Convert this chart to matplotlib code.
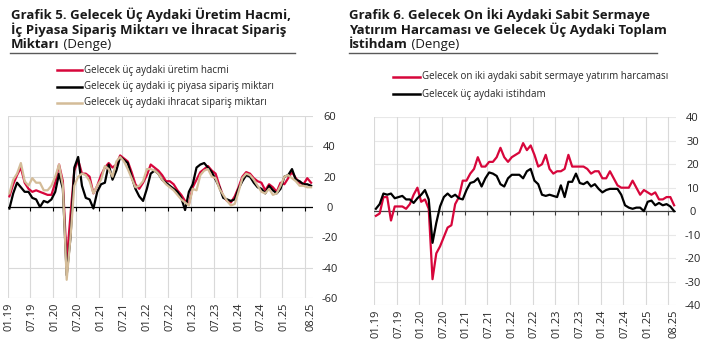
import numpy as np
import matplotlib
matplotlib.use('Agg')
import matplotlib.pyplot as plt
from matplotlib.lines import Line2D

# --- data (monthly, 01.19 .. 08.25) ---
months = ['%02d.%02d' % (m, y) for y in range(19, 26) for m in range(1, 13)][:80]

uretim = [7, 15, 21, 26, 16, 12, 10, 11, 10, 9, 8, 8,
          16, 28, 17, -36, -5, 24, 31, 22, 22, 20, 9, 14,
          21, 26, 29, 26, 28, 34, 32, 30, 23, 15, 12, 16,
          21, 28, 26, 24, 21, 17, 17, 15, 11, 8, 4, 2,
          13, 18, 23, 25, 27, 24, 22, 14, 7, 4, 3, 7,
          13, 20, 23, 22, 19, 17, 16, 11, 15, 13, 10, 16,
          15, 19, 23, 19, 16, 15, 19, 16]
ic_piyasa = [-1, 9, 16, 13, 10, 10, 6, 5, 0, 4, 3, 5,
             10, 22, 12, -45, -20, 26, 33, 14, 6, 5, -1, 10,
             15, 16, 28, 18, 24, 33, 31, 29, 20, 12, 7, 4,
             12, 22, 24, 22, 18, 16, 14, 12, 10, 6, -2, 10,
             15, 26, 28, 29, 26, 23, 18, 13, 6, 5, 4, 5,
             12, 17, 21, 20, 16, 13, 12, 9, 14, 11, 9, 12,
             20, 21, 25, 18, 17, 15, 15, 14]
ihracat = [9, 18, 22, 29, 17, 14, 19, 16, 16, 11, 11, 14,
           20, 28, 14, -48, -20, 14, 20, 22, 21, 17, 9, 14,
           18, 27, 25, 20, 30, 33, 30, 25, 19, 13, 14, 17,
           25, 25, 24, 22, 18, 15, 13, 11, 8, 5, 3, 1,
           12, 11, 21, 24, 25, 20, 19, 12, 8, 4, 1, 2,
           10, 19, 22, 21, 18, 14, 10, 9, 12, 8, 9, 14,
           20, 21, 19, 17, 14, 14, 13, 13]

yatirim = [-2, -1, 6, 6, -4, 2, 2, 2, 1, 3, 7, 10,
           4, 5, 1, -29, -18, -15, -11, -7, -6, 3, 6, 13,
           13, 16, 18, 23, 19, 19, 21, 21, 23, 27, 23, 21,
           23, 24, 25, 29, 26, 28, 24, 19, 20, 24, 18, 16,
           17, 17, 18, 24, 19, 19, 19, 19, 18, 16, 17, 17,
           14, 14, 17, 14, 11, 10, 10, 10, 13, 10, 7, 9,
           8, 7, 8, 5, 5, 6, 6, 2.5]
istihdam = [1, 3, 7.5, 7, 7.5, 5.5, 6, 6.5, 5, 5, 3.5, 5.5,
            7, 9, 5, -13.5, -5, 2, 6, 7.5, 6, 7, 5.5, 5,
            9, 12, 12.5, 14, 10.5, 14, 16.5, 16, 15, 11.5, 10.5, 14,
            15.5, 15.5, 15.5, 14, 17, 18, 13, 11.5, 7, 6.5, 7, 6.5,
            6, 11, 6, 12.5, 12.5, 16, 12, 11.5, 12.5, 10.5, 11.5, 9.5,
            8, 9, 9.5, 9.5, 9.5, 7, 2.5, 1.5, 1, 1.5, 1.5, 0,
            4, 4.5, 2.5, 3.5, 2.5, 3, 2, 0]

RED = '#D7063B'
BEIGE = '#D4BC98'
GRID = '#D9D9D9'
TXT = '#262626'

W, H = 718, 351
fig = plt.figure(figsize=(W / 100, H / 100), dpi=100)


def fx(px):
    return px / W


def fy(py):
    return 1 - py / H


def panel(rect_px, ylim, ystep, series, hgrid, zcol):
    x0, y0, x1, y1 = rect_px
    ax = fig.add_axes([fx(x0), fy(y1), fx(x1 - x0), (y1 - y0) / H])
    x = np.arange(len(months))
    for vals, col in series:
        ax.plot(x, vals, color=col, lw=1.6, solid_joinstyle='round')
    ax.set_xlim(-0.5, len(months) - 0.5)
    ax.set_ylim(*ylim)
    for s in ax.spines.values():
        s.set_visible(False)
    yt = np.arange(ylim[0], ylim[1] + 1, ystep)
    ax.set_yticks(yt)
    ax.set_yticklabels([str(v) for v in yt])
    ax.yaxis.tick_right()
    ax.tick_params(axis='y', length=0, pad=12, labelsize=8, labelcolor=TXT)
    for t in ax.get_yticklabels():
        t.set_horizontalalignment('center')
        t.set_fontfamily('Open Sans')
    for v in yt:
        if v != 0:
            ax.axhline(v, color=hgrid, lw=0.8, zorder=0)
    gx = np.arange(0, len(months), 6) - 0.5
    for g in gx:
        ax.axvline(g, color=GRID, lw=0.8, zorder=0)
    ax.axhline(0, color=zcol, lw=0.9, zorder=1)
    ax.plot(gx[1:], np.zeros(len(gx) - 1), ls='none', marker=3, ms=3, color=zcol, mew=0.8)
    pos = list(range(0, 73, 6)) + [79]
    ax.set_xticks(pos)
    ax.set_xticklabels([months[p] for p in pos], rotation=90)
    ax.tick_params(axis='x', length=0, pad=3, labelsize=8, labelcolor=TXT)
    for t in ax.get_xticklabels():
        t.set_fontfamily('Open Sans')
    return ax


panel((7.5, 116, 313, 298), (-60, 60), 20,
      [(uretim, RED), (ic_piyasa, 'black'), (ihracat, BEIGE)], GRID, 'black')
panel((374, 117.3, 676, 305), (-40, 40), 10,
      [(yatirim, RED), (istihdam, 'black')], '#E8E8E8', '#404040')


def title(x, y, lines, last_normal):
    fs = 9.5
    for i, ln in enumerate(lines):
        t = fig.text(fx(x), fy(y + i * 15), ln, fontsize=fs, fontweight='bold',
                     family='Open Sans', color='#1A1A1A', va='center')
    fig.canvas.draw()
    bb = t.get_window_extent()
    fig.text(bb.x1 / W, fy(y + (len(lines) - 1) * 15), last_normal, fontsize=fs,
             family='Open Sans', color='#1A1A1A', va='center')


title(11, 14.5, ['Grafik 5. Gelecek Üç Aydaki Üretim Hacmi,',
                 'İç Piyasa Sipariş Miktarı ve İhracat Sipariş',
                 'Miktarı'], ' (Denge)')
title(349, 14.5, ['Grafik 6. Gelecek On İki Aydaki Sabit Sermaye',
                  'Yatırım Harcaması ve Gelecek Üç Aydaki Toplam',
                  'İstihdam'], ' (Denge)')

fig.add_artist(Line2D([fx(10), fx(295)], [fy(53), fy(53)], color='#595959', lw=1))
fig.add_artist(Line2D([fx(349), fx(657)], [fy(53), fy(53)], color='#595959', lw=1))


def legend(x0, x1, ys, items):
    for y, (lab, col) in zip(ys, items):
        fig.add_artist(Line2D([fx(x0), fx(x1)], [fy(y), fy(y)], color=col, lw=1.8))
        fig.text(fx(x1 + 2), fy(y), lab, fontsize=7, family='Open Sans', color=TXT, va='center')


legend(57, 82, [70, 86.5, 103], [('Gelecek üç aydaki üretim hacmi', RED),
                                 ('Gelecek üç aydaki iç piyasa sipariş miktarı', 'black'),
                                 ('Gelecek üç aydaki ihracat sipariş miktarı', BEIGE)])
legend(393, 420, [76.5, 94], [('Gelecek on iki aydaki sabit sermaye yatırım harcaması', RED),
                              ('Gelecek üç aydaki istihdam', 'black')])

fig.savefig('out.png', dpi=100)
